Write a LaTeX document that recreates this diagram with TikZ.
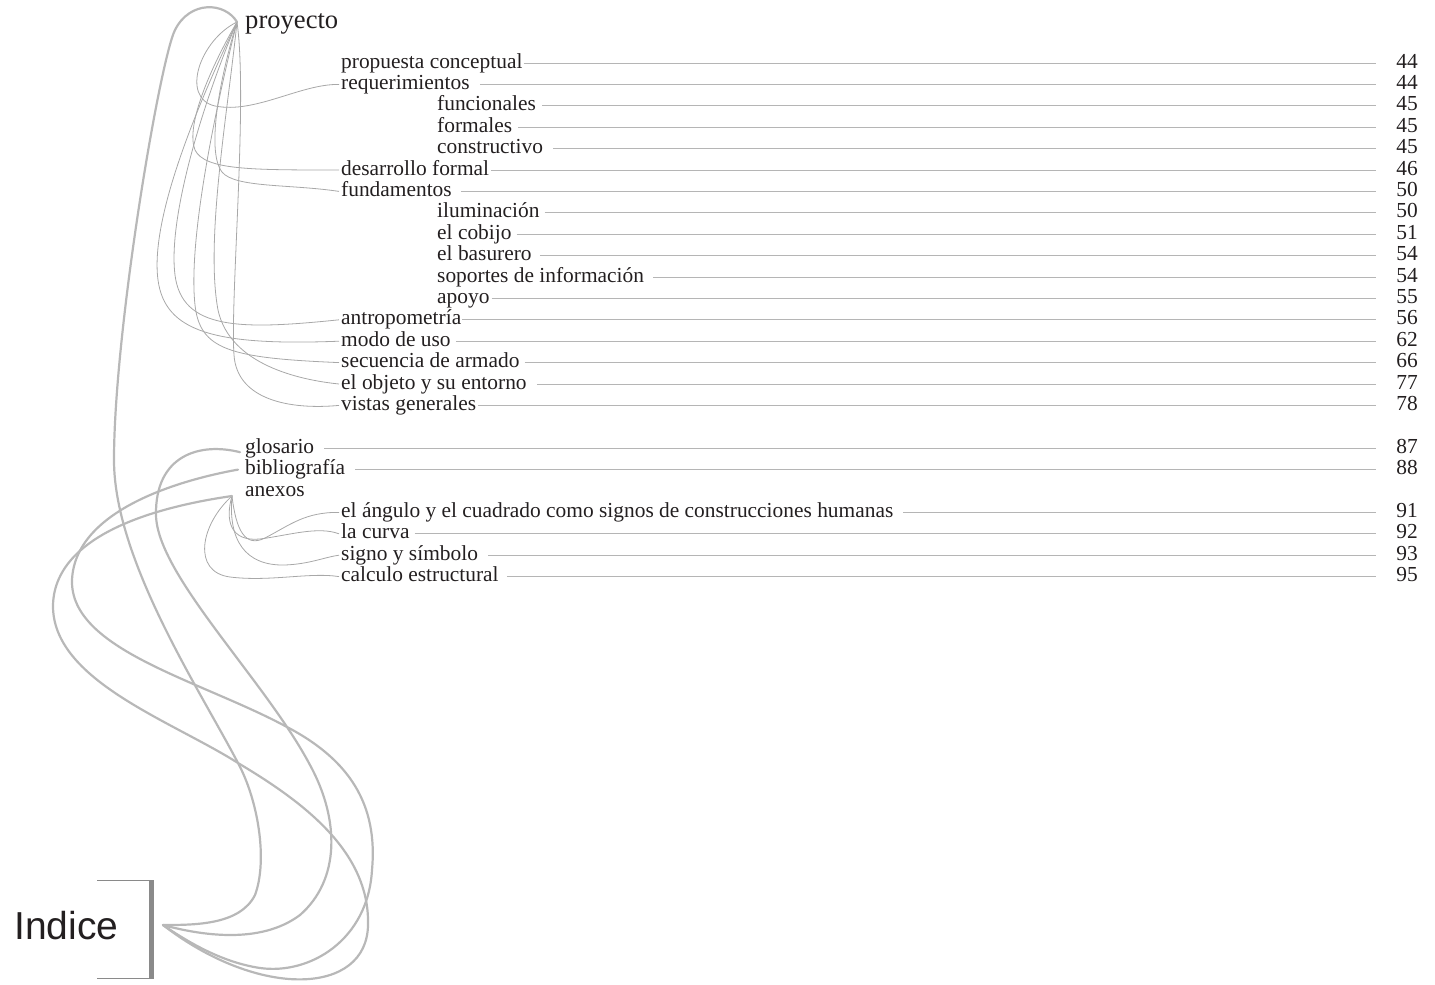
\documentclass[tikz,border=0pt]{standalone}
\usepackage{fontspec}
\setmainfont{Liberation Serif}
\newfontfamily\indfont{Liberation Sans}
\definecolor{txt}{HTML}{231F20}
\definecolor{thinc}{HTML}{A8A8A8}
\definecolor{thickc}{HTML}{B8B8B8}
\definecolor{hlc}{HTML}{B5B5B5}
\definecolor{barc}{HTML}{8A8A8A}
\begin{document}
\begin{tikzpicture}[x=1pt,y=-1pt,
  entry/.style={anchor=base west, inner sep=0pt, text=txt, font=\fontsize{21.4}{21.4}\selectfont},
  pagenum/.style={anchor=base east, inner sep=0pt, text=txt, font=\fontsize{21.4}{21.4}\selectfont},
  hline/.style={draw=hlc, line width=0.8pt},
  thinline/.style={draw=thinc, line width=0.8pt},
  thickline/.style={draw=thickc, line width=2.2pt, line cap=round, line join=round},
]
\useasboundingbox (0,0) rectangle (1435,985);

% level-1 heading
\node[entry, font=\fontsize{26.6}{26.6}\selectfont] (proyecto) at (245,28.5) {proyecto};
\node[entry] (anexos) at (245,496) {anexos};

% entries with leader lines and page numbers
\foreach \nm/\tx/\xx/\yy/\pg/\gp in {
  pc/propuesta conceptual/341/63/44/1,
  req/requerimientos/341/84.4/44/10,
  fun/funcionales/437/105.8/45/6,
  for/formales/437/127.2/45/6,
  con/constructivo/437/148.6/45/10,
  des/desarrollo formal/341/170/46/2,
  fnd/fundamentos/341/191.4/50/9,
  ilu/iluminación/437/212.8/50/5,
  cob/el cobijo/437/234.2/51/5,
  bas/el basurero/437/255.6/54/8,
  sop/soportes de información/437/277/54/9,
  apo/apoyo/437/298.4/55/2,
  ant/antropometría/341/319.8/56/1,
  mod/modo de uso/341/341.2/62/5,
  sec/secuencia de armado/341/362.6/66/5,
  obj/el objeto y su entorno/341/384/77/10,
  vis/vistas generales/341/405.4/78/2,
  glo/glosario/245/448.2/87/10,
  bib/bibliografía/245/469.6/88/10,
  ang/el ángulo y el cuadrado como signos de construcciones humanas/341/512.4/91/10,
  cur/la curva/341/533.8/92/5,
  sig/signo y símbolo/341/555.2/93/10,
  cal/calculo estructural/341/576.6/95/8}
{
  \node[entry] (\nm) at (\xx,\yy+5) {\tx};
  \node[pagenum] (\nm-pg) at (1418,\yy+5) {\pg};
  \draw[hline] ([shift={(\gp,-5)}]\nm.base east) -- ([shift={(-20,-5)}]\nm-pg.base west);
  \coordinate (\nm-in) at ([shift={(-2,-5)}]\nm.base west);
}

% tips
\coordinate (ptip) at ([shift={(-8,-6.5)}]proyecto.base west);
\coordinate (gtip) at ([shift={(-5,-1)}]glo.base west);
\coordinate (btip) at ([shift={(-7,-5)}]bib.base west);
\coordinate (atip) at ([shift={(-13,0)}]anexos.base west);

% thin connectors from proyecto
\draw[thinline] (ptip) .. controls (200,40) and (180,98) .. (215,106) .. controls (255,114) and (300,84) .. (req-in);
\draw[thinline] (ptip) .. controls (212,65) and (185,125) .. (195,150) .. controls (205,170) and (250,170) .. (des-in);
\draw[thinline] (ptip) .. controls (222,70) and (205,150) .. (222,172) .. controls (235,188) and (290,184) .. (fnd-in);
\draw[thinline] (ptip) .. controls (200,110) and (168,220) .. (175,275) .. controls (182,330) and (240,330) .. (ant-in);
\draw[thinline] (ptip) .. controls (195,110) and (150,220) .. (158,280) .. controls (165,332) and (215,346) .. (mod-in);
\draw[thinline] (ptip) .. controls (215,110) and (188,240) .. (195,305) .. controls (200,350) and (230,358) .. (sec-in);
\draw[thinline] (ptip) .. controls (228,110) and (205,240) .. (218,310) .. controls (230,365) and (300,380) .. (obj-in);
\draw[thinline] (ptip) .. controls (248,100) and (230,300) .. (234,355) .. controls (237,400) and (290,410) .. (vis-in);

% thin connectors from anexos
\draw[thinline] (atip) .. controls (236,530) and (245,548) .. (265,538) .. controls (290,525) and (305,512) .. (ang-in);
\draw[thinline] (atip) .. controls (225,520) and (230,542) .. (260,539) .. controls (290,535) and (318,526) .. (cur-in);
\draw[thinline] (atip) .. controls (228,540) and (245,566) .. (285,565) .. controls (310,564) and (325,557) .. (sig-in);
\draw[thinline] (atip) .. controls (200,525) and (192,572) .. (230,577) .. controls (270,582) and (310,572) .. (cal-in);

% Indice
\node[anchor=base west, inner sep=0pt, text=txt, font=\indfont\fontsize{39}{39}\selectfont] (indice) at (14,939) {Indice};
\draw[draw=barc, line width=1pt] (97,880.5) -- (154,880.5);
\draw[draw=barc, line width=1pt] (97,978.5) -- (154,978.5);
\draw[draw=barc, line width=4.5pt] (151.5,880) -- (151.5,979);
\coordinate (itip) at (163,925);

% thick connectors from Indice
\draw[thickline] (ptip) .. controls (225,2) and (190,0) .. (175,30)
  .. controls (160,60) and (114,330) .. (114,460)
  .. controls (114,560) and (200,690) .. (238,763)
  .. controls (258,800) and (268,860) .. (255,895)
  .. controls (240,925) and (195,925) .. (itip);
\draw[thickline] (gtip) .. controls (200,442) and (155,455) .. (156,515)
  .. controls (157,575) and (265,680) .. (310,765)
  .. controls (340,820) and (340,880) .. (300,915)
  .. controls (260,945) and (200,935) .. (itip);
\draw[thickline] (btip) .. controls (180,480) and (75,510) .. (72,580)
  .. controls (70,650) and (200,680) .. (287,727)
  .. controls (350,760) and (378,805) .. (372,870)
  .. controls (368,940) and (310,975) .. (260,968)
  .. controls (220,962) and (185,940) .. (itip);
\draw[thickline] (atip) .. controls (170,505) and (55,530) .. (53,605)
  .. controls (52,680) and (170,720) .. (238,763)
  .. controls (300,800) and (370,850) .. (368,925)
  .. controls (367,995) and (260,1000) .. (itip);
\end{tikzpicture}
\end{document}
